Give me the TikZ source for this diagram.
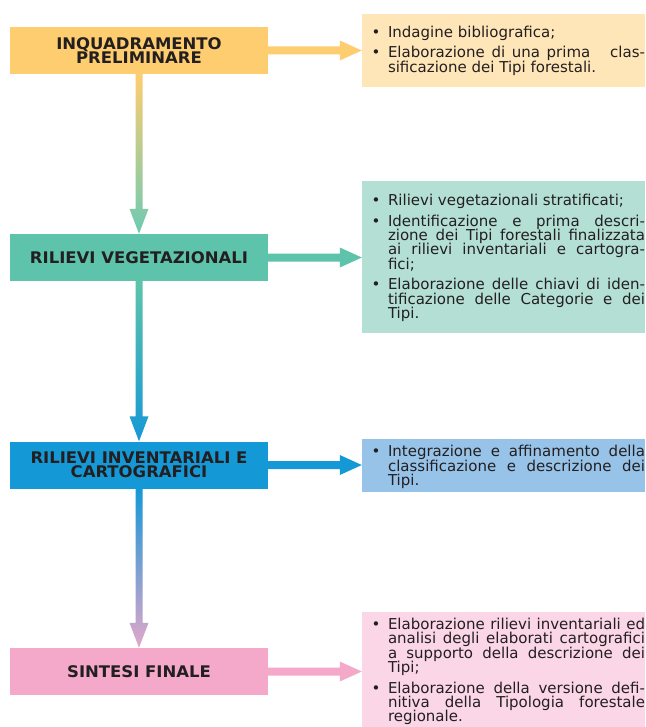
\documentclass[tikz,border=0pt]{standalone}
\usepackage{fontspec}
\usetikzlibrary{calc}
\newfontfamily\bodyfont{DejaVu Sans}
\newfontfamily\titlefont{DejaVu Sans}[FakeStretch=1.03]

\definecolor{ink}{HTML}{231F20}
\definecolor{c1}{HTML}{FECD70}
\definecolor{n1}{HTML}{FFE6B8}
\definecolor{c2}{HTML}{5DC4AB}
\definecolor{n2}{HTML}{B3DFD4}
\definecolor{c3}{HTML}{1598D6}
\definecolor{n3}{HTML}{97C3E9}
\definecolor{c4}{HTML}{F4A9CA}
\definecolor{n4}{HTML}{FAD6E7}

% text lines of the note boxes: bullet column 26pt, text column 257pt
\newcommand\bulletcol{\makebox[26pt][l]{\hspace{9.5pt}•}}
\newcommand\lnb[1]{\hbox to 283pt{\bulletcol\hbox to 257pt{#1}\hss}}   % bullet, justified
\newcommand\lnbe[1]{\hbox to 283pt{\bulletcol#1\hss}}                 % bullet, single line
\newcommand\lnj[1]{\hbox to 283pt{\hskip26pt\hbox to 257pt{#1}\hss}}  % continuation, justified
\newcommand\lne[1]{\hbox to 283pt{\hskip26pt#1\hss}}                  % last line, ragged
\newcommand\notes[2][0pt]{\vbox{\baselineskip=14.4pt\lineskiplimit=-\maxdimen\lineskip=0pt \kern#1 #2}}
\newcommand\gap{\vskip6pt}

% horizontal arrow: from node anchor to tip coordinate
\newcommand\flowh[3]{%
  \fill[#3] ($(#1)+(0,-4)$) -- ($(#2)+(-22,-4)$) -- ($(#2)+(-22,-10)$) -- (#2)
    -- ($(#2)+(-22,10)$) -- ($(#2)+(-22,4)$) -- ($(#1)+(0,4)$) -- cycle;}
% vertical arrow with a colour blend from top to bottom
\newcommand\flowv[4]{%
  \shade[top color=#3, bottom color=#4] ($(#1)+(-3.5,0)$) -- ($(#2)+(-3.5,-25)$)
    -- ($(#2)+(-9.5,-25)$) -- (#2) -- ($(#2)+(9.5,-25)$) -- ($(#2)+(3.5,-25)$)
    -- ($(#1)+(3.5,0)$) -- cycle;}

\tikzset{
  titlebox/.style={rectangle, minimum width=258pt, minimum height=47pt, inner sep=0pt,
    align=center, text=ink, font={\titlefont\bfseries\fontsize{16pt}{14.5pt}\selectfont}},
  notebox/.style={rectangle, minimum width=283pt, inner sep=0pt, text=ink,
    font={\bodyfont\fontsize{15pt}{14.4pt}\selectfont}},
}

\begin{document}
\begin{tikzpicture}[x=1pt, y=-1pt]
\useasboundingbox (0,0) rectangle (645,727);
\clip (0,0) rectangle (645,727);
\fill[white] (0,0) rectangle (645,727);

% phases
\node[titlebox, fill=c1] (b1) at (139,50.5) {INQUADRAMENTO\\PRELIMINARE};
\node[titlebox, fill=c2] (b2) at (139,257.5) {RILIEVI VEGETAZIONALI};
\node[titlebox, fill=c3] (b3) at (139,465) {RILIEVI INVENTARIALI E\\CARTOGRAFICI};
\node[titlebox, fill=c4] (b4) at (139,671.5) {SINTESI FINALE};

% activities of each phase
\node[notebox, fill=n1, minimum height=73pt] (r1) at (503.5,50.5) {\notes{%
  \lnbe{Indagine bibliografica;}
  \gap
  \lnb{Elaborazione di una prima \ \ clas-}
  \lne{sificazione dei Tipi forestali.}}};
\node[notebox, fill=n2, minimum height=152pt] (r2) at (503.5,257) {\notes[2pt]{%
  \lnbe{Rilievi vegetazionali stratificati;}
  \gap
  \lnb{Identificazione e prima descri-}
  \lnj{zione dei Tipi forestali finalizzata}
  \lnj{ai rilievi inventariali e cartogra-}
  \lne{fici;}
  \gap
  \lnb{Elaborazione delle chiavi di iden-}
  \lnj{tificazione delle Categorie e dei}
  \lne{Tipi.}}};
\node[notebox, fill=n3, minimum height=53pt] (r3) at (503.5,465.5) {\notes[3pt]{%
  \lnb{Integrazione e affinamento della}
  \lnj{classificazione e descrizione dei}
  \lne{Tipi.}}};
\node[notebox, fill=n4, minimum height=119pt] (r4) at (503.5,671.5) {\notes{%
  \lnb{Elaborazione rilievi inventariali ed}
  \lnj{analisi degli elaborati cartografici}
  \lnj{a supporto della descrizione dei}
  \lne{Tipi;}
  \gap
  \lnb{Elaborazione della versione defi-}
  \lnj{nitiva della Tipologia forestale}
  \lne{regionale.}}};

% arrow tips on the note boxes
\coordinate (t1) at (b1.east -| r1.west);
\coordinate (t2) at (b2.east -| r2.west);
\coordinate (t3) at (b3.east -| r3.west);
\coordinate (t4) at (b4.east -| r4.west);

\flowh{b1.east}{t1}{c1}
\flowh{b2.east}{t2}{c2}
\flowh{b3.east}{t3}{c3}
\flowh{b4.east}{t4}{c4}

\flowv{b1.south}{b2.north}{c1}{c2!90!white}
\flowv{b2.south}{b3.north}{c2}{c3}
\flowv{b3.south}{b4.north}{c3}{c4!92!c3}
\end{tikzpicture}
\end{document}
